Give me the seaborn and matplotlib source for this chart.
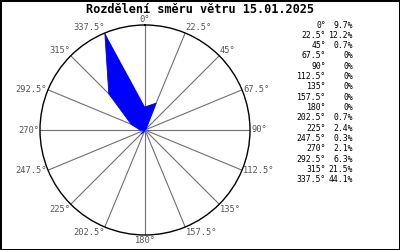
import numpy as np
import matplotlib
matplotlib.use("Agg")
import matplotlib.pyplot as plt
import seaborn as sns
import pandas as pd

title = "Rozdělení směru větru 15.01.2025"
directions = [0, 22.5, 45, 67.5, 90, 112.5, 135, 157.5, 180, 202.5, 225, 247.5, 270, 292.5, 315, 337.5]
dir_labels = ["0°", "22.5°", "45°", "67.5°", "90°", "112.5°", "135°", "157.5°", "180°", "202.5°",
              "225°", "247.5°", "270°", "292.5°", "315°", "337.5°"]
values = [9.7, 12.2, 0.7, 0, 0, 0, 0, 0, 0, 0.7, 2.4, 0.3, 2.1, 6.3, 21.5, 44.1]
value_labels = ["9.7%", "12.2%", "0.7%", "0%", "0%", "0%", "0%", "0%", "0%", "0.7%",
                "2.4%", "0.3%", "2.1%", "6.3%", "21.5%", "44.1%"]

sns.set_style("white")
plt.rcParams['font.family'] = ['DejaVu Sans Mono', 'DejaVu Sans']

W, H = 400, 250
fig = plt.figure(figsize=(4, 2.5), dpi=100)
fig.patch.set_facecolor("white")

cx, cy, R = 145, 130, 105
ax = fig.add_axes([(cx - R) / W, (H - cy - R) / H, 2 * R / W, 2 * R / H], projection="polar")
ax.set_theta_zero_location("N")
ax.set_theta_direction(-1)
rmax = max(values)
ax.set_ylim(0, rmax)
ax.set_yticks([])
theta = np.deg2rad(directions)
ax.set_xticks(theta)
ax.set_xticklabels([])
ax.xaxis.grid(True, color="#707070", linewidth=0.8)
ax.yaxis.grid(False)
ax.spines["polar"].set_color("black")
ax.spines["polar"].set_linewidth(1.0)
ax.set_facecolor("white")

df = pd.DataFrame({"theta": list(theta) + [theta[0]], "r": values + [values[0]]})
ax.fill(df["theta"], df["r"], color="#0000ff", zorder=3, linewidth=0)
sns.lineplot(data=df, x="theta", y="r", sort=False, ax=ax, color="#0000ff", linewidth=0.6, zorder=4)
ax.set_xlabel("")
ax.set_ylabel("")

for t, lab in zip(theta, dir_labels):
    s, c = np.sin(t), np.cos(t)
    ha = "left" if s > 0.1 else ("right" if s < -0.1 else "center")
    va = "bottom" if c > 0.5 else ("top" if c < -0.5 else "center")
    ax.text(t, rmax * 1.01, lab, ha=ha, va=va, fontsize=6.3, color="#555555", clip_on=False)

fig.text(0.5, 1 - 9.5 / H, title, ha="center", va="center", fontsize=8.6, fontweight="bold", color="black")

y0, dy = 25, 10.33
for i, (dl, vl) in enumerate(zip(dir_labels, value_labels)):
    y = 1 - (y0 + i * dy) / H
    fig.text(326 / W, y, dl, ha="right", va="center", fontsize=5.9, color="black")
    fig.text(353 / W, y, vl, ha="right", va="center", fontsize=5.9, color="black")

fig.patch.set_edgecolor("black")
fig.patch.set_linewidth(2)

fig.savefig("out.png", dpi=100, facecolor=fig.get_facecolor(), edgecolor=fig.get_edgecolor())
